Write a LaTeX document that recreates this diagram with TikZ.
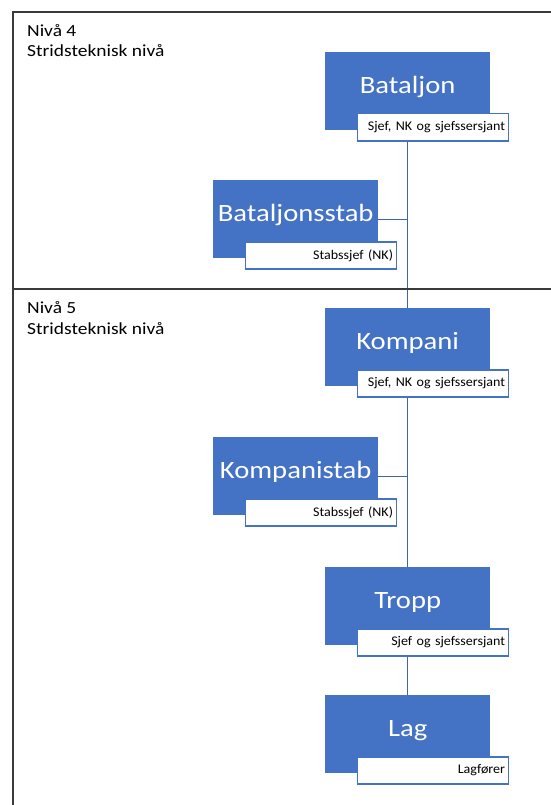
\documentclass[tikz,border=0pt]{standalone}
\usepackage{fontspec}
\setmainfont{Carlito}
\newfontfamily\titlefont[FakeStretch=1.15]{Carlito}
\newfontfamily\levelfont[FakeStretch=1.15]{Carlito}
\newfontfamily\rolefont[FakeStretch=1.06]{Carlito}
\usetikzlibrary{backgrounds}
\definecolor{unitblue}{HTML}{4472C4}
\definecolor{linkblue}{HTML}{3F64AC}
\definecolor{framegray}{HTML}{3A3A3A}
\tikzset{
  unitbox/.style={draw=none, fill=unitblue, minimum width=165bp, minimum height=78bp,
                  inner sep=0pt, anchor=north west},
  unittitle/.style={text=white, font=\titlefont\fontsize{25}{30}\selectfont, anchor=base, inner sep=0pt},
  rolebox/.style={draw=unitblue, line width=1.1bp, fill=white, anchor=north west,
                  minimum width=151bp, minimum height=27bp, text width=144bp, align=right,
                  inner sep=0pt, font=\rolefont\fontsize{13.3}{15}\selectfont},
  link/.style={draw=linkblue, line width=1.3bp},
  frame/.style={draw=framegray, line width=1.1bp},
  leveltext/.style={anchor=base west, inner sep=0pt, font=\levelfont\fontsize{17}{20}\selectfont}
}
\begin{document}
\begin{tikzpicture}[x=1bp, y=-1bp]
  \useasboundingbox (0,0) rectangle (551,805);

  % frame and level divider
  \coordinate (ftl) at (13,12);
  \coordinate (ftr) at (551,12);
  \coordinate (fbl) at (13,805);
  \coordinate (dl) at (13,289);
  \coordinate (dr) at (551,289);
  \draw[frame] (ftr) -- (ftl) -- (fbl);
  \draw[frame] (dl) -- (dr);

  % level captions
  \node[leveltext] (n4a) at (27,37) {Nivå 4};
  \node[leveltext] (n4b) at (27,57) {Stridsteknisk nivå};
  \node[leveltext] (n5a) at (27,313) {Nivå 5};
  \node[leveltext] (n5b) at (27,334) {Stridsteknisk nivå};

  % units
  \node[unitbox] (bat) at (325,52) {};
  \node[unittitle] (batT) at ([yshift=-2bp]bat.center) {Bataljon};
  \node[rolebox] (batR) at ([xshift=32bp,yshift=17bp]bat.south west) {Sjef, NK og sjefssersjant};

  \node[unitbox] (bst) at (213,180) {};
  \node[unittitle] (bstT) at ([yshift=-2bp]bst.center) {Bataljonsstab};
  \node[rolebox] (bstR) at ([xshift=32bp,yshift=17bp]bst.south west) {Stabssjef (NK)};

  \node[unitbox] (kom) at (325,308) {};
  \node[unittitle] (komT) at ([yshift=-2bp]kom.center) {Kompani};
  \node[rolebox] (komR) at ([xshift=32bp,yshift=17bp]kom.south west) {Sjef, NK og sjefssersjant};

  \node[unitbox] (kst) at (213,437) {};
  \node[unittitle] (kstT) at ([yshift=-2bp]kst.center) {Kompanistab};
  \node[rolebox] (kstR) at ([xshift=32bp,yshift=17bp]kst.south west) {Stabssjef (NK)};

  \node[unitbox] (tro) at (325,567) {};
  \node[unittitle] (troT) at ([yshift=-2bp]tro.center) {Tropp};
  \node[rolebox] (troR) at ([xshift=32bp,yshift=17bp]tro.south west) {Sjef og sjefssersjant};

  \node[unitbox] (lag) at (325,695) {};
  \node[unittitle] (lagT) at ([yshift=-2bp]lag.center) {Lag};
  \node[rolebox] (lagR) at ([xshift=32bp,yshift=17bp]lag.south west) {Lagfører};

  % chain of command
  \begin{scope}[on background layer]
    \draw[link] (bat.south) -- (kom.north);
    \draw[link] (kom.south) -- (tro.north);
    \draw[link] (tro.south) -- (lag.north);
    \draw[link] (bst.east) -- (bst.east -| bat.south);
    \draw[link] (kst.east) -- (kst.east -| kom.south);
  \end{scope}
\end{tikzpicture}
\end{document}
